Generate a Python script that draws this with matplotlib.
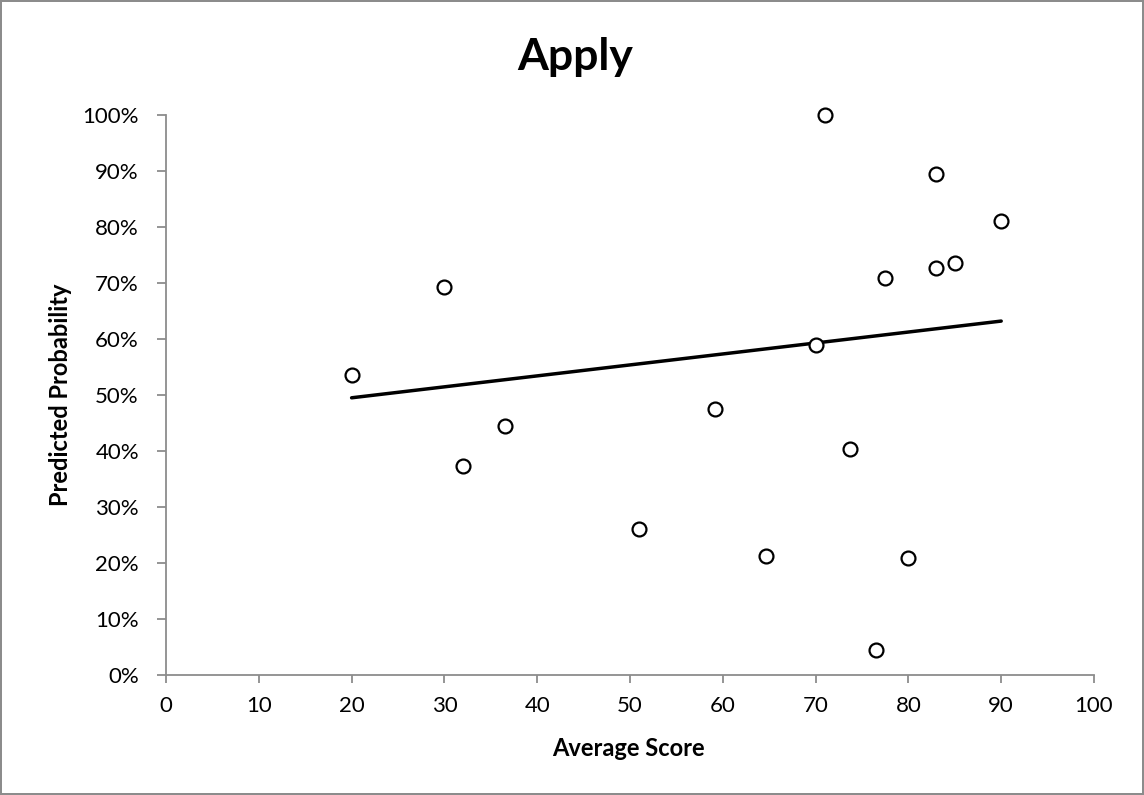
import numpy as np
import matplotlib
matplotlib.use("Agg")
import matplotlib.pyplot as plt
from matplotlib.ticker import PercentFormatter

plt.rcParams['font.family'] = ['Lato', 'DejaVu Sans']

# observed points
avg_score = [20, 30, 32, 36.5, 51, 59.2, 64.7, 70, 71, 73.7, 76.5, 77.5, 80, 83, 83, 85, 90]
pred_prob = [53.5, 69.3, 37.4, 44.5, 26.0, 47.5, 21.3, 59.0, 100.0, 40.3, 4.4, 70.9, 20.9, 89.4, 72.7, 73.6, 81.1]

# fitted trend line end points
trend_x = [20, 90]
trend_y = [49.5, 63.2]

x_ticks = np.arange(0, 101, 10)
y_ticks = np.arange(0, 101, 10)

fig = plt.figure(figsize=(11.44, 7.95), dpi=100, edgecolor='#8c8c8c', linewidth=1.5)
ax = fig.add_axes([166/1144, 1 - 675/795, (1094 - 166)/1144, (675 - 115)/795])

ax.plot(trend_x, trend_y, color='black', linewidth=2.5, solid_capstyle='round', zorder=2)
ax.plot(avg_score, pred_prob, linestyle='none', marker='o', markersize=10, clip_on=False,
        markerfacecolor='white', markeredgecolor='black', markeredgewidth=1.6, zorder=3)

ax.set_xlim(0, 100)
ax.set_ylim(0, 100)
ax.set_xticks(x_ticks)
ax.set_yticks(y_ticks)
ax.yaxis.set_major_formatter(PercentFormatter(decimals=0))

for side in ['top', 'right']:
    ax.spines[side].set_visible(False)
for side in ['left', 'bottom']:
    ax.spines[side].set_color('#8c8c8c')
    ax.spines[side].set_linewidth(1.3)

ax.tick_params(axis='y', direction='out', length=6.5, width=1.3, color='#8c8c8c',
               labelsize=16, pad=13)
ax.tick_params(axis='x', direction='out', length=6, width=1.3, color='#8c8c8c',
               labelsize=16, pad=9)

fig.text(575/1144, 1 - 70/795, "Apply", ha='center', va='baseline', fontsize=32, fontweight='bold')
fig.text(628/1144, 1 - 756/795, "Average Score", ha='center', va='baseline', fontsize=17, fontweight='bold')
fig.text(60/1144, 1 - 395/795, "Predicted Probability", ha='center', va='center',
         rotation=90, fontsize=17, fontweight='bold')

fig.savefig("out.png", dpi=100, edgecolor=fig.get_edgecolor())
